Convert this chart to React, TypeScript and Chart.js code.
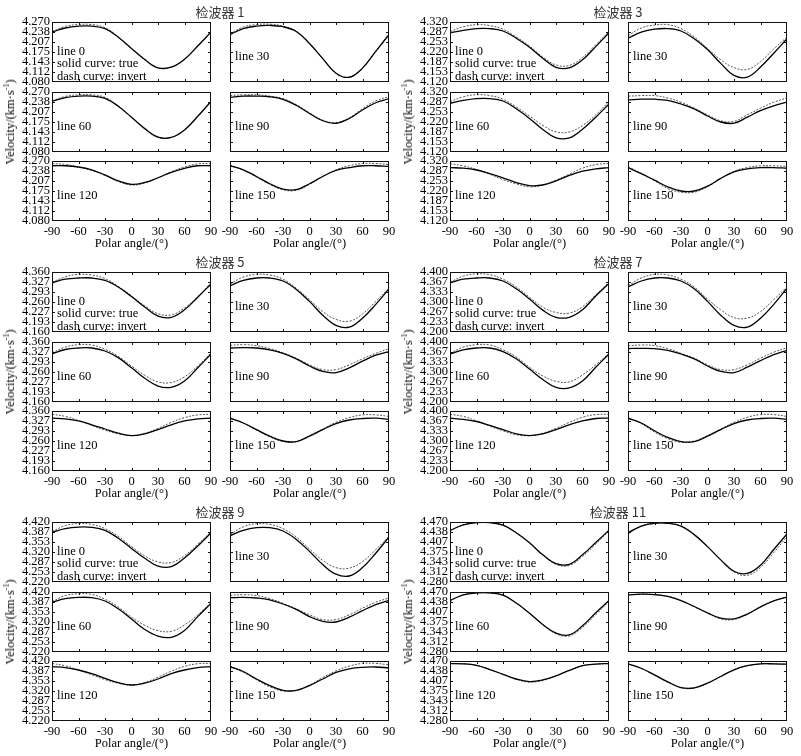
import React, { useEffect, useRef } from 'react';
import { Chart, registerables } from 'chart.js';

Chart.register(...registerables);

// ---------- data ----------
const angles = [-90, -75, -60, -45, -30, -15, 0, 15, 30, 45, 60, 75, 90];
const xTicks = [-90, -60, -30, 0, 30, 60, 90];
const lineNames = ['line 0', 'line 30', 'line 60', 'line 90', 'line 120', 'line 150'];
const detectorNames = ['检波器 1', '检波器 3', '检波器 5', '检波器 7', '检波器 9', '检波器 11'];

const det1YTicks = ['4.080', '4.112', '4.143', '4.175', '4.207', '4.238', '4.270'];
const det3YTicks = ['4.120', '4.153', '4.187', '4.220', '4.253', '4.287', '4.320'];
const det5YTicks = ['4.160', '4.193', '4.227', '4.260', '4.293', '4.327', '4.360'];
const det7YTicks = ['4.200', '4.233', '4.267', '4.300', '4.333', '4.367', '4.400'];
const det9YTicks = ['4.220', '4.253', '4.287', '4.320', '4.353', '4.387', '4.420'];
const det11YTicks = ['4.280', '4.312', '4.343', '4.375', '4.407', '4.438', '4.470'];

// 检波器 1
const det1Line0True = [4.238, 4.251, 4.257, 4.257, 4.249, 4.222, 4.186, 4.151, 4.125, 4.127, 4.152, 4.194, 4.238];
const det1Line0Invert = [4.240, 4.256, 4.262, 4.262, 4.252, 4.223, 4.186, 4.151, 4.125, 4.127, 4.152, 4.194, 4.240];
const det1Line30True = [4.230, 4.249, 4.257, 4.259, 4.255, 4.240, 4.202, 4.154, 4.108, 4.095, 4.124, 4.177, 4.230];
const det1Line30Invert = [4.233, 4.254, 4.262, 4.263, 4.257, 4.241, 4.202, 4.154, 4.108, 4.095, 4.124, 4.177, 4.233];
const det1Line60True = [4.240, 4.252, 4.257, 4.257, 4.250, 4.225, 4.190, 4.154, 4.127, 4.126, 4.150, 4.193, 4.240];
const det1Line60Invert = [4.242, 4.256, 4.261, 4.261, 4.253, 4.226, 4.190, 4.154, 4.127, 4.126, 4.150, 4.193, 4.242];
const det1Line90True = [4.253, 4.257, 4.257, 4.255, 4.247, 4.228, 4.202, 4.179, 4.171, 4.186, 4.213, 4.236, 4.249];
const det1Line90Invert = [4.259, 4.261, 4.261, 4.257, 4.249, 4.230, 4.204, 4.181, 4.173, 4.188, 4.217, 4.242, 4.255];
const det1Line120True = [4.255, 4.255, 4.251, 4.242, 4.226, 4.207, 4.196, 4.202, 4.217, 4.234, 4.247, 4.255, 4.255];
const det1Line120Invert = [4.262, 4.259, 4.251, 4.240, 4.224, 4.205, 4.194, 4.200, 4.217, 4.236, 4.251, 4.261, 4.262];
const det1Line150True = [4.255, 4.242, 4.221, 4.198, 4.181, 4.179, 4.198, 4.221, 4.240, 4.249, 4.255, 4.255, 4.253];
const det1Line150Invert = [4.257, 4.242, 4.219, 4.196, 4.179, 4.177, 4.196, 4.221, 4.242, 4.255, 4.262, 4.262, 4.259];

// 检波器 3
const det3Line0True = [4.284, 4.292, 4.298, 4.298, 4.290, 4.266, 4.236, 4.199, 4.169, 4.167, 4.194, 4.238, 4.284];
const det3Line0Invert = [4.288, 4.304, 4.311, 4.308, 4.296, 4.270, 4.240, 4.203, 4.177, 4.175, 4.202, 4.244, 4.288];
const det3Line30True = [4.266, 4.286, 4.296, 4.298, 4.290, 4.264, 4.228, 4.182, 4.142, 4.136, 4.170, 4.216, 4.264];
const det3Line30Invert = [4.274, 4.300, 4.310, 4.311, 4.298, 4.270, 4.232, 4.194, 4.168, 4.162, 4.188, 4.230, 4.270];
const det3Line60True = [4.282, 4.292, 4.298, 4.298, 4.290, 4.264, 4.232, 4.195, 4.167, 4.167, 4.196, 4.236, 4.280];
const det3Line60Invert = [4.288, 4.304, 4.311, 4.308, 4.296, 4.270, 4.240, 4.209, 4.187, 4.187, 4.208, 4.244, 4.288];
const det3Line90True = [4.294, 4.296, 4.296, 4.292, 4.280, 4.264, 4.240, 4.220, 4.216, 4.236, 4.258, 4.274, 4.286];
const det3Line90Invert = [4.306, 4.308, 4.308, 4.300, 4.286, 4.266, 4.244, 4.224, 4.222, 4.244, 4.266, 4.286, 4.300];
const det3Line120True = [4.298, 4.296, 4.290, 4.278, 4.264, 4.248, 4.238, 4.240, 4.254, 4.272, 4.286, 4.294, 4.298];
const det3Line120Invert = [4.311, 4.304, 4.292, 4.276, 4.258, 4.244, 4.234, 4.240, 4.256, 4.276, 4.296, 4.308, 4.312];
const det3Line150True = [4.298, 4.278, 4.256, 4.234, 4.220, 4.220, 4.236, 4.262, 4.284, 4.294, 4.298, 4.298, 4.296];
const det3Line150Invert = [4.302, 4.278, 4.254, 4.228, 4.216, 4.216, 4.234, 4.262, 4.286, 4.298, 4.304, 4.304, 4.302];

// 检波器 5
const det5Line0True = [4.324, 4.336, 4.340, 4.340, 4.332, 4.310, 4.278, 4.243, 4.213, 4.209, 4.234, 4.276, 4.320];
const det5Line0Invert = [4.326, 4.344, 4.352, 4.350, 4.338, 4.312, 4.280, 4.247, 4.221, 4.217, 4.240, 4.278, 4.324];
const det5Line30True = [4.314, 4.332, 4.340, 4.340, 4.330, 4.302, 4.262, 4.216, 4.182, 4.176, 4.206, 4.252, 4.304];
const det5Line30Invert = [4.320, 4.343, 4.352, 4.350, 4.336, 4.306, 4.268, 4.228, 4.202, 4.196, 4.220, 4.262, 4.306];
const det5Line60True = [4.320, 4.335, 4.340, 4.340, 4.330, 4.308, 4.274, 4.239, 4.213, 4.209, 4.230, 4.274, 4.320];
const det5Line60Invert = [4.324, 4.343, 4.351, 4.350, 4.336, 4.312, 4.280, 4.249, 4.227, 4.225, 4.244, 4.280, 4.324];
const det5Line90True = [4.340, 4.341, 4.340, 4.334, 4.322, 4.304, 4.280, 4.262, 4.258, 4.274, 4.296, 4.316, 4.328];
const det5Line90Invert = [4.349, 4.351, 4.348, 4.338, 4.324, 4.306, 4.284, 4.268, 4.268, 4.284, 4.304, 4.322, 4.338];
const det5Line120True = [4.336, 4.334, 4.327, 4.314, 4.300, 4.286, 4.278, 4.284, 4.298, 4.314, 4.327, 4.334, 4.336];
const det5Line120Invert = [4.349, 4.342, 4.328, 4.312, 4.296, 4.284, 4.278, 4.286, 4.302, 4.322, 4.338, 4.347, 4.349];
const det5Line150True = [4.336, 4.320, 4.298, 4.276, 4.260, 4.258, 4.276, 4.298, 4.318, 4.330, 4.335, 4.336, 4.332];
const det5Line150Invert = [4.338, 4.320, 4.296, 4.274, 4.258, 4.258, 4.278, 4.300, 4.322, 4.338, 4.347, 4.347, 4.342];

// 检波器 7
const det7Line0True = [4.364, 4.376, 4.380, 4.380, 4.370, 4.344, 4.310, 4.273, 4.249, 4.249, 4.274, 4.320, 4.362];
const det7Line0Invert = [4.366, 4.386, 4.394, 4.391, 4.376, 4.350, 4.316, 4.283, 4.265, 4.263, 4.284, 4.324, 4.366];
const det7Line30True = [4.350, 4.370, 4.380, 4.380, 4.370, 4.344, 4.302, 4.256, 4.222, 4.216, 4.246, 4.292, 4.346];
const det7Line30Invert = [4.354, 4.380, 4.392, 4.390, 4.376, 4.350, 4.310, 4.274, 4.248, 4.246, 4.268, 4.308, 4.350];
const det7Line60True = [4.360, 4.374, 4.380, 4.380, 4.368, 4.344, 4.310, 4.275, 4.249, 4.247, 4.270, 4.316, 4.360];
const det7Line60Invert = [4.362, 4.383, 4.391, 4.390, 4.374, 4.350, 4.316, 4.287, 4.269, 4.267, 4.290, 4.324, 4.362];
const det7Line90True = [4.378, 4.379, 4.378, 4.372, 4.360, 4.344, 4.320, 4.302, 4.298, 4.316, 4.338, 4.358, 4.372];
const det7Line90Invert = [4.387, 4.390, 4.388, 4.378, 4.362, 4.346, 4.324, 4.308, 4.308, 4.324, 4.346, 4.366, 4.381];
const det7Line120True = [4.376, 4.372, 4.365, 4.352, 4.338, 4.324, 4.318, 4.324, 4.338, 4.354, 4.367, 4.375, 4.376];
const det7Line120Invert = [4.389, 4.382, 4.367, 4.350, 4.334, 4.321, 4.318, 4.326, 4.342, 4.362, 4.379, 4.388, 4.389];
const det7Line150True = [4.376, 4.360, 4.334, 4.312, 4.298, 4.298, 4.316, 4.338, 4.358, 4.370, 4.375, 4.376, 4.372];
const det7Line150Invert = [4.378, 4.358, 4.330, 4.308, 4.296, 4.300, 4.318, 4.340, 4.362, 4.379, 4.388, 4.388, 4.382];

// 检波器 9
const det9Line0True = [4.386, 4.398, 4.403, 4.402, 4.392, 4.366, 4.332, 4.299, 4.273, 4.271, 4.300, 4.340, 4.384];
const det9Line0Invert = [4.388, 4.408, 4.415, 4.412, 4.398, 4.372, 4.338, 4.307, 4.287, 4.285, 4.308, 4.346, 4.387];
const det9Line30True = [4.374, 4.392, 4.401, 4.401, 4.390, 4.362, 4.322, 4.278, 4.246, 4.240, 4.268, 4.316, 4.370];
const det9Line30Invert = [4.378, 4.404, 4.414, 4.412, 4.398, 4.370, 4.330, 4.292, 4.268, 4.266, 4.288, 4.328, 4.372];
const det9Line60True = [4.386, 4.398, 4.402, 4.401, 4.390, 4.364, 4.330, 4.295, 4.273, 4.269, 4.292, 4.338, 4.382];
const det9Line60Invert = [4.388, 4.408, 4.414, 4.412, 4.396, 4.370, 4.336, 4.309, 4.291, 4.289, 4.310, 4.344, 4.385];
const det9Line90True = [4.401, 4.402, 4.400, 4.394, 4.380, 4.362, 4.338, 4.322, 4.320, 4.336, 4.358, 4.378, 4.392];
const det9Line90Invert = [4.409, 4.411, 4.408, 4.398, 4.382, 4.364, 4.344, 4.328, 4.328, 4.344, 4.366, 4.386, 4.400];
const det9Line120True = [4.401, 4.398, 4.390, 4.378, 4.362, 4.348, 4.340, 4.346, 4.360, 4.378, 4.390, 4.398, 4.401];
const det9Line120Invert = [4.412, 4.404, 4.390, 4.374, 4.358, 4.346, 4.340, 4.348, 4.366, 4.386, 4.402, 4.411, 4.412];
const det9Line150True = [4.401, 4.385, 4.360, 4.338, 4.322, 4.322, 4.338, 4.360, 4.382, 4.394, 4.399, 4.400, 4.397];
const det9Line150Invert = [4.403, 4.382, 4.358, 4.334, 4.320, 4.322, 4.340, 4.365, 4.387, 4.403, 4.412, 4.412, 4.407];

// 检波器 11
const det11Line0True = [4.443, 4.461, 4.468, 4.468, 4.460, 4.436, 4.404, 4.366, 4.338, 4.336, 4.366, 4.405, 4.444];
const det11Line0Invert = [4.442, 4.461, 4.468, 4.468, 4.460, 4.436, 4.404, 4.366, 4.336, 4.332, 4.361, 4.400, 4.442];
const det11Line30True = [4.436, 4.457, 4.466, 4.466, 4.457, 4.430, 4.392, 4.350, 4.314, 4.307, 4.333, 4.383, 4.432];
const det11Line30Invert = [4.432, 4.457, 4.466, 4.466, 4.457, 4.430, 4.392, 4.350, 4.312, 4.301, 4.326, 4.373, 4.424];
const det11Line60True = [4.443, 4.461, 4.467, 4.467, 4.460, 4.435, 4.403, 4.367, 4.340, 4.334, 4.363, 4.404, 4.443];
const det11Line60Invert = [4.442, 4.461, 4.467, 4.467, 4.460, 4.435, 4.403, 4.367, 4.338, 4.331, 4.358, 4.398, 4.440];
const det11Line90True = [4.461, 4.463, 4.462, 4.456, 4.443, 4.424, 4.404, 4.387, 4.385, 4.400, 4.423, 4.442, 4.454];
const det11Line90Invert = [4.461, 4.463, 4.462, 4.456, 4.443, 4.423, 4.403, 4.385, 4.383, 4.399, 4.423, 4.442, 4.454];
const det11Line120True = [4.462, 4.461, 4.456, 4.443, 4.428, 4.413, 4.405, 4.410, 4.423, 4.440, 4.455, 4.460, 4.462];
const det11Line120Invert = [4.462, 4.461, 4.456, 4.443, 4.428, 4.412, 4.403, 4.408, 4.423, 4.440, 4.455, 4.460, 4.462];
const det11Line150True = [4.461, 4.447, 4.426, 4.404, 4.386, 4.385, 4.400, 4.421, 4.442, 4.455, 4.461, 4.461, 4.460];
const det11Line150Invert = [4.461, 4.446, 4.425, 4.403, 4.385, 4.384, 4.399, 4.421, 4.442, 4.455, 4.461, 4.461, 4.460];

// ---------- table built from the arrays ----------
const groups = [
  { yTicks: det1YTicks, lines: [[det1Line0True, det1Line0Invert], [det1Line30True, det1Line30Invert], [det1Line60True, det1Line60Invert], [det1Line90True, det1Line90Invert], [det1Line120True, det1Line120Invert], [det1Line150True, det1Line150Invert]] },
  { yTicks: det3YTicks, lines: [[det3Line0True, det3Line0Invert], [det3Line30True, det3Line30Invert], [det3Line60True, det3Line60Invert], [det3Line90True, det3Line90Invert], [det3Line120True, det3Line120Invert], [det3Line150True, det3Line150Invert]] },
  { yTicks: det5YTicks, lines: [[det5Line0True, det5Line0Invert], [det5Line30True, det5Line30Invert], [det5Line60True, det5Line60Invert], [det5Line90True, det5Line90Invert], [det5Line120True, det5Line120Invert], [det5Line150True, det5Line150Invert]] },
  { yTicks: det7YTicks, lines: [[det7Line0True, det7Line0Invert], [det7Line30True, det7Line30Invert], [det7Line60True, det7Line60Invert], [det7Line90True, det7Line90Invert], [det7Line120True, det7Line120Invert], [det7Line150True, det7Line150Invert]] },
  { yTicks: det9YTicks, lines: [[det9Line0True, det9Line0Invert], [det9Line30True, det9Line30Invert], [det9Line60True, det9Line60Invert], [det9Line90True, det9Line90Invert], [det9Line120True, det9Line120Invert], [det9Line150True, det9Line150Invert]] },
  { yTicks: det11YTicks, lines: [[det11Line0True, det11Line0Invert], [det11Line30True, det11Line30Invert], [det11Line60True, det11Line60Invert], [det11Line90True, det11Line90Invert], [det11Line120True, det11Line120Invert], [det11Line150True, det11Line150Invert]] },
];

// ---------- layout ----------
const GROUP_X = [0, 398];
const GROUP_Y = [0, 250, 500];
const COL_X = [52, 230];
const ROW_Y = [22, 92, 161];
const PW = 159;
const PH = 60;
const PAD_L = 52;
const PAD_T = 10;
const PAD_R = 14;
const PAD_B = 26;

const SERIF = '"Liberation Serif", "Times New Roman", serif';
const FONT_PX = 12.5;

const framePlugin = {
  id: 'frameTicks',
  afterDraw(chart: any) {
    const { ctx, chartArea } = chart;
    const { left, top, right, bottom } = chartArea;
    const xs = chart.scales.x;
    const ys = chart.scales.y;
    ctx.save();
    ctx.strokeStyle = '#111';
    ctx.lineWidth = 1;
    ctx.strokeRect(left + 0.5, top + 0.5, right - left - 1, bottom - top - 1);
    ctx.beginPath();
    const tl = 3;
    xs.ticks.forEach((t: any) => {
      if (t.value <= xs.min || t.value >= xs.max) return;
      const px = Math.round(xs.getPixelForValue(t.value)) + 0.5;
      ctx.moveTo(px, bottom);
      ctx.lineTo(px, bottom - tl);
      ctx.moveTo(px, top);
      ctx.lineTo(px, top + tl);
    });
    ys.ticks.forEach((t: any) => {
      if (t.value <= ys.min + 1e-9 || t.value >= ys.max - 1e-9) return;
      const py = Math.round(ys.getPixelForValue(t.value)) + 0.5;
      ctx.moveTo(left, py);
      ctx.lineTo(left + tl, py);
      ctx.moveTo(right, py);
      ctx.lineTo(right - tl, py);
    });
    ctx.stroke();
    ctx.restore();
  },
};

type PanelProps = {
  left: number;
  top: number;
  yTicks: string[];
  solid: number[];
  dashed: number[];
  showY: boolean;
  showX: boolean;
};

function Panel({ left, top, yTicks, solid, dashed, showY, showX }: PanelProps) {
  const ref = useRef<HTMLCanvasElement | null>(null);
  useEffect(() => {
    if (!ref.current) return;
    const yVals = yTicks.map((s) => parseFloat(s));
    const chart = new Chart(ref.current, {
      type: 'line',
      data: {
        datasets: [
          {
            data: angles.map((a, i) => ({ x: a, y: solid[i] })),
            borderColor: '#000',
            borderWidth: 1.3,
            pointRadius: 0,
            tension: 0.4,
            fill: false,
          },
          {
            data: angles.map((a, i) => ({ x: a, y: dashed[i] })),
            borderColor: '#555',
            borderWidth: 1,
            borderDash: [2, 1.5],
            pointRadius: 0,
            tension: 0.4,
            fill: false,
          },
        ],
      },
      options: {
        animation: false,
        responsive: false,
        maintainAspectRatio: false,
        events: [],
        layout: { padding: { left: 0, top: PAD_T, right: PAD_R, bottom: 0 } },
        plugins: { legend: { display: false }, tooltip: { enabled: false }, title: { display: false } },
        scales: {
          x: {
            type: 'linear',
            min: xTicks[0],
            max: xTicks[xTicks.length - 1],
            grid: { display: false, drawTicks: false },
            border: { display: false },
            afterBuildTicks: (s: any) => {
              s.ticks = xTicks.map((v) => ({ value: v }));
            },
            afterFit: (s: any) => {
              s.height = PAD_B;
            },
            ticks: {
              display: showX,
              autoSkip: false,
              maxRotation: 0,
              minRotation: 0,
              padding: 3.5,
              color: '#000',
              font: { family: SERIF, size: FONT_PX },
              callback: (v: any) => String(v),
            },
          },
          y: {
            type: 'linear',
            min: yVals[0],
            max: yVals[yVals.length - 1],
            grid: { display: false, drawTicks: false },
            border: { display: false },
            afterBuildTicks: (s: any) => {
              s.ticks = yVals.map((v) => ({ value: v }));
            },
            afterFit: (s: any) => {
              s.width = PAD_L;
            },
            ticks: {
              display: showY,
              autoSkip: false,
              padding: 2,
              color: '#000',
              font: { family: SERIF, size: FONT_PX, lineHeight: 1 },
              callback: (_v: any, i: number) => yTicks[i],
            },
          },
        },
      },
      plugins: [framePlugin],
    } as any);
    return () => chart.destroy();
  }, [yTicks, solid, dashed, showY, showX]);

  return (
    <canvas
      ref={ref}
      width={PAD_L + PW + PAD_R}
      height={PAD_T + PH + PAD_B}
      style={{
        position: 'absolute',
        left: left - PAD_L,
        top: top - PAD_T,
        width: PAD_L + PW + PAD_R,
        height: PAD_T + PH + PAD_B,
      }}
    />
  );
}

const textBase: React.CSSProperties = {
  position: 'absolute',
  fontFamily: SERIF,
  fontSize: FONT_PX,
  fontWeight: 400,
  lineHeight: '14px',
  color: '#000',
  whiteSpace: 'nowrap',
};

function Group({ index }: { index: number }) {
  const g = groups[index];
  const x0 = GROUP_X[index % 2];
  const y0 = GROUP_Y[Math.floor(index / 2)];
  const items: React.ReactNode[] = [];
  for (let k = 0; k < 6; k++) {
    const r = Math.floor(k / 2);
    const c = k % 2;
    const left = x0 + COL_X[c];
    const top = y0 + ROW_Y[r];
    items.push(
      <Panel
        key={'p' + k}
        left={left}
        top={top}
        yTicks={g.yTicks}
        solid={g.lines[k][0]}
        dashed={g.lines[k][1]}
        showY={c === 0}
        showX={r === 2}
      />
    );
    const cy = k === 0 ? 28.5 : 34;
    items.push(
      <div key={'l' + k} style={{ ...textBase, left: left + 5, top: top + cy - 7 }}>
        {lineNames[k]}
      </div>
    );
    if (k === 0) {
      items.push(
        <div key="solid" style={{ ...textBase, left: left + 5, top: top + 40.5 - 7 }}>
          solid curve: true
        </div>
      );
      items.push(
        <div key="dash" style={{ ...textBase, left: left + 5, top: top + 54 - 7 }}>
          dash curve: invert
        </div>
      );
    }
  }
  for (let c = 0; c < 2; c++) {
    items.push(
      <div
        key={'xt' + c}
        style={{
          ...textBase,
          left: x0 + COL_X[c] + PW / 2,
          top: y0 + 243 - 7,
          transform: 'translateX(-50%)',
        }}
      >
        Polar angle/(°)
      </div>
    );
  }
  items.push(
    <div
      key="yt"
      style={{
        ...textBase,
        left: x0 + 10,
        top: y0 + 122,
        transform: 'translate(-50%, -50%) rotate(-90deg)',
      }}
    >
      Velocity/(km·s<sup style={{ fontSize: 8, verticalAlign: 'super', lineHeight: 0 }}>-1</sup>)
    </div>
  );
  items.push(
    <div
      key="title"
      style={{
        position: 'absolute',
        left: x0 + 220,
        top: y0 + 12 - 8,
        transform: 'translateX(-50%)',
        fontFamily: '"Noto Sans CJK SC", "Noto Sans", sans-serif',
        fontSize: 13,
        lineHeight: '16px',
        color: '#333',
        whiteSpace: 'nowrap',
      }}
    >
      {detectorNames[index]}
    </div>
  );
  return <>{items}</>;
}

export default function App() {
  return (
    <div
      style={{
        position: 'absolute',
        left: 0,
        top: 0,
        width: 801,
        height: 756,
        background: '#fff',
        overflow: 'hidden',
      }}
    >
      {groups.map((_, i) => (
        <Group key={i} index={i} />
      ))}
    </div>
  );
}
